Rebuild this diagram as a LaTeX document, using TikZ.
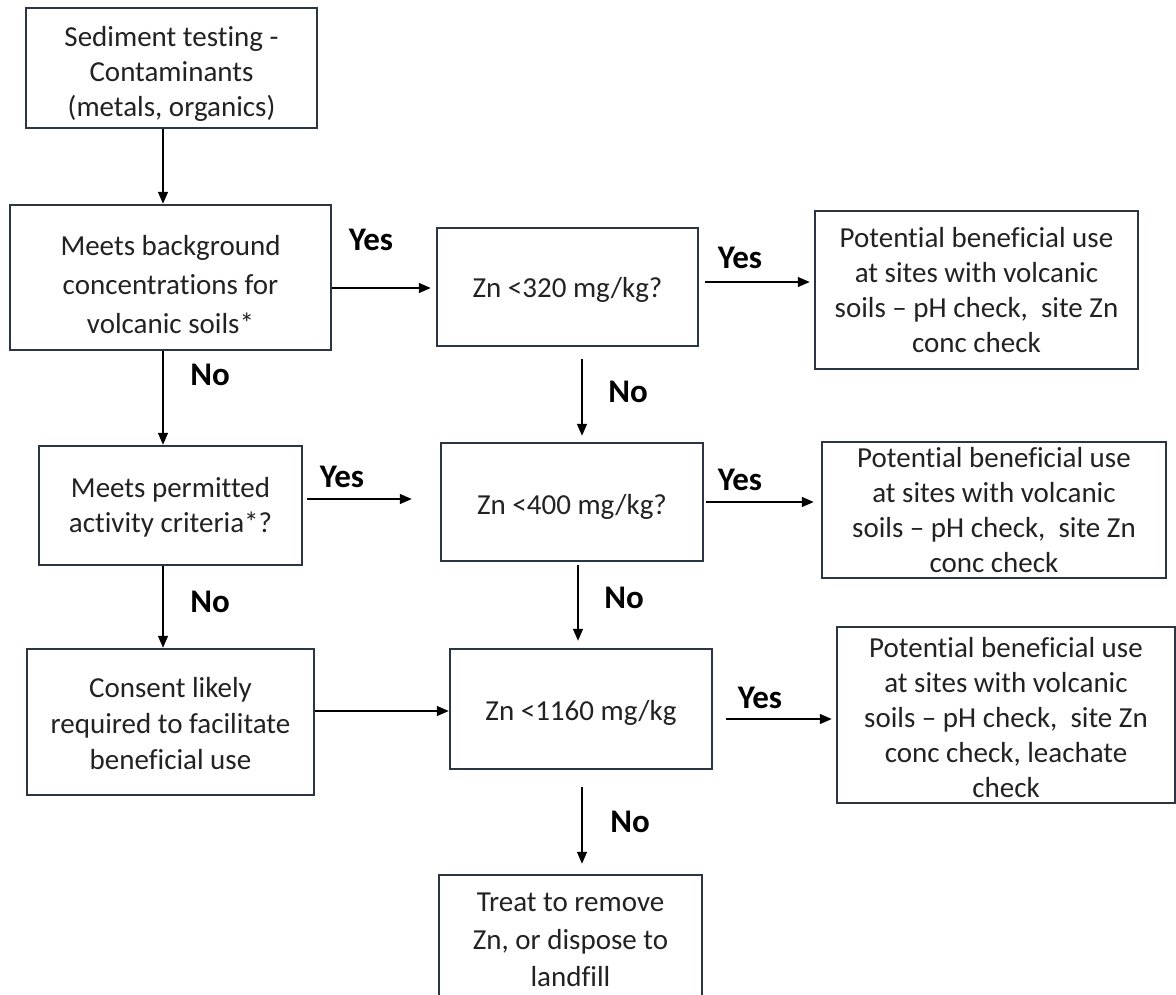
\documentclass[tikz,border=0pt]{standalone}
\usepackage{fontspec}
\setmainfont{Carlito}[Ligatures=NoCommon]
\usetikzlibrary{arrows.meta}
\definecolor{boxline}{HTML}{2B3642}
\definecolor{txt}{HTML}{222222}
\begin{document}
\begin{tikzpicture}[x=1pt,y=-1pt,
  box/.style={draw=boxline, line width=2.5pt, fill=white, inner sep=0pt},
  tx/.style={align=center, inner sep=0pt, font=\fontsize{29}{35}\selectfont, text=txt},
  arr/.style={-{Triangle[length=12pt,width=10pt]}, line width=1.4pt, black},
  lab/.style={font=\bfseries\fontsize{33}{36}\selectfont, text=black, inner sep=0pt}]
\useasboundingbox (0,0) rectangle (1176,994);
\clip (0,0) rectangle (1176,994);
\fill[white] (0,0) rectangle (1176,994);

% left column boxes
\node[box, minimum width=291pt, minimum height=120pt] (sed) at (171.5,68) {};
\node[box, minimum width=321pt, minimum height=145pt] (bg) at (170.5,277.5) {};
\node[box, minimum width=263pt, minimum height=119pt] (perm) at (170.5,505.5) {};
\node[box, minimum width=287pt, minimum height=146pt] (cons) at (170.5,722) {};
% middle column boxes
\node[box, minimum width=261pt, minimum height=118pt] (z320) at (567.5,287) {};
\node[box, minimum width=262pt, minimum height=118pt] (z400) at (572,502) {};
\node[box, minimum width=262pt, minimum height=120pt] (z1160) at (581,709) {};
\node[box, minimum width=263pt, minimum height=126pt] (treat) at (570.5,938) {};
% right column boxes
\node[box, minimum width=323pt, minimum height=158pt] (r1) at (976.5,290) {};
\node[box, minimum width=344pt, minimum height=136pt] (r2) at (994,510) {};
\node[box, minimum width=338pt, minimum height=176pt] (r3) at (1006,715) {};

% box texts
\node[tx] (sed-t) at ([yshift=-6pt]sed.center) {Sediment testing -\\Contaminants\\(metals, organics)};
\node[tx, font=\fontsize{29}{39}\selectfont] (bg-t) at ([yshift=-7pt]bg.center) {Meets background\\concentrations for\\volcanic soils*};
\node[tx] (perm-t) at ([yshift=-2pt]perm.center) {Meets permitted\\activity criteria*?};
\node[tx, font=\fontsize{29}{36}\selectfont] (cons-t) at ([yshift=-2pt]cons.center) {Consent likely\\required to facilitate\\beneficial use};
\node[tx] (z320-t) at ([yshift=-3pt]z320.center) {Zn <320 mg/kg?};
\node[tx] (z400-t) at ([yshift=-5pt]z400.center) {Zn <400 mg/kg?};
\node[tx] (z1160-t) at ([yshift=-4pt]z1160.center) {Zn <1160 mg/kg};
\node[tx, font=\fontsize{29}{37.5}\selectfont] (treat-t) at (570.5,940) {Treat to remove\\Zn, or dispose to\\landfill};
\node[tx] (r1-t) at (r1.center) {Potential beneficial use\\at sites with volcanic\\soils -- pH check,\ \ site Zn\\conc check};
\node[tx] (r2-t) at (r2.center) {Potential beneficial use\\at sites with volcanic\\soils -- pH check,\ \ site Zn\\conc check};
\node[tx] (r3-t) at ([yshift=-3pt]r3.center) {Potential beneficial use\\at sites with volcanic\\soils -- pH check,\ \ site Zn\\conc check, leachate\\check};

% guide coordinates
\coordinate (xl) at (163,0);
\coordinate (xm1) at (582,0);
\coordinate (xm2) at (578,0);
\coordinate (xm3) at (582,0);
\coordinate (ya) at (0,288);
\coordinate (yb) at (0,499);
\coordinate (yc) at (0,711);
\coordinate (yd) at (0,282);
\coordinate (ye) at (0,502);
\coordinate (yf) at (0,719);

% vertical connectors, left
\draw[arr] (sed.south -| xl) -- (bg.north -| xl);
\draw[arr] (bg.south -| xl) -- (perm.north -| xl);
\draw[arr] (perm.south -| xl) -- (cons.north -| xl);

% horizontal connectors
\draw[arr, shorten >=5pt] (bg.east |- ya) -- (z320.west |- ya);
\draw[arr, shorten <=4pt, shorten >=28pt] (perm.east |- yb) -- (z400.west |- yb);
\draw[arr] (cons.east |- yc) -- (z1160.west |- yc);
\draw[arr, shorten <=6pt, shorten >=4pt] (z320.east |- yd) -- (r1.west |- yd);
\draw[arr, shorten <=2pt, shorten >=7pt] (z400.east |- ye) -- (r2.west |- ye);
\draw[arr, shorten <=13pt, shorten >=4pt] (z1160.east |- yf) -- (r3.west |- yf);

% vertical connectors, middle
\draw[arr, shorten <=12pt, shorten >=6pt] (z320.south -| xm1) -- (z400.north -| xm1);
\draw[arr, shorten <=3pt, shorten >=7pt] (z400.south -| xm2) -- (z1160.north -| xm2);
\draw[arr, shorten <=17pt, shorten >=10pt] (z1160.south -| xm3) -- (treat.north -| xm3);

% labels
\node[lab] (y1) at (371,240) {Yes};
\node[lab] (y2) at (342,477) {Yes};
\node[lab] (y3) at (740,258) {Yes};
\node[lab] (y4) at (740,480) {Yes};
\node[lab] (y5) at (760,698) {Yes};
\node[lab] (n1) at (210,375) {No};
\node[lab] (n2) at (210,602) {No};
\node[lab] (n3) at (628,392) {No};
\node[lab] (n4) at (624,598) {No};
\node[lab] (n5) at (630,822) {No};
\end{tikzpicture}
\end{document}
